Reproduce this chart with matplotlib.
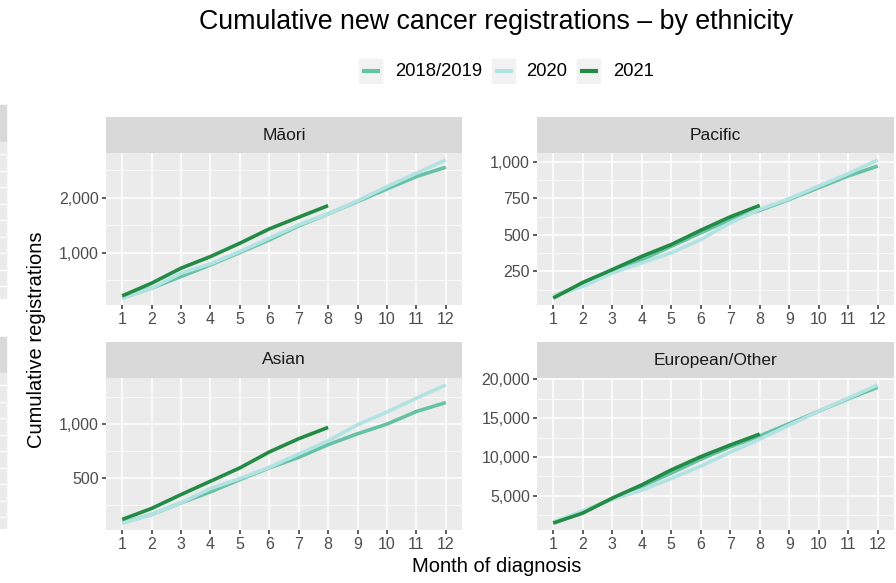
import matplotlib
matplotlib.use("Agg")
import matplotlib.pyplot as plt
from matplotlib.patches import Rectangle
from matplotlib.ticker import FuncFormatter, FixedLocator
import numpy as np

plt.rcParams['font.family'] = ['Liberation Sans', 'DejaVu Sans']

months = list(range(1, 13))
series_names = ["2018/2019", "2020", "2021"]
series_colors = ["#66c2a4", "#b2e2e2", "#238b45"]
panels = ["Māori", "Pacific", "Asian", "European/Other"]

maori_1819 = [180, 358, 570, 782, 1006, 1236, 1491, 1709, 1933, 2164, 2388, 2558]
maori_2020 = [178, 358, 630, 800, 1024, 1267, 1509, 1709, 1945, 2206, 2449, 2691]
maori_2021 = [218, 449, 722, 933, 1176, 1436, 1649, 1860]

pacific_1819 = [80, 158, 250, 330, 422, 514, 606, 668, 743, 824, 904, 972]
pacific_2020 = [80, 147, 239, 308, 377, 468, 583, 675, 748, 835, 920, 1014]
pacific_2021 = [67, 174, 262, 353, 434, 532, 624, 702]

asian_1819 = [83, 160, 268, 370, 484, 593, 691, 809, 910, 1000, 1117, 1200]
asian_2020 = [80, 160, 268, 401, 494, 598, 722, 845, 994, 1111, 1241, 1364]
asian_2021 = [114, 216, 345, 469, 593, 741, 864, 969]

euro_1819 = [1500, 2900, 4600, 6200, 7900, 9700, 11300, 12700, 14300, 15900, 17500, 19000]
euro_2020 = [1600, 3000, 4500, 5700, 7200, 8800, 10600, 12300, 14100, 15900, 17600, 19300]
euro_2021 = [1443, 2732, 4665, 6379, 8312, 10026, 11534, 12951]

panel_data = {
    "Māori": [maori_1819, maori_2020, maori_2021],
    "Pacific": [pacific_1819, pacific_2020, pacific_2021],
    "Asian": [asian_1819, asian_2020, asian_2021],
    "European/Other": [euro_1819, euro_2020, euro_2021],
}
y_major = {
    "Māori": [1000, 2000],
    "Pacific": [250, 500, 750, 1000],
    "Asian": [500, 1000],
    "European/Other": [5000, 10000, 15000, 20000],
}

W, H = 896, 583
fig = plt.figure(figsize=(W / 100, H / 100), dpi=100)

# panel pixel boxes: (left, right, strip_top, panel_top, panel_bottom)
boxes = {
    "Māori": (106, 462, 117, 153, 305),
    "Pacific": (537, 894, 117, 153, 305),
    "Asian": (106, 462, 342, 378, 530),
    "European/Other": (537, 894, 342, 378, 530),
}

# cropped fragments of a neighbouring chart at the left edge
for (st, pt, pb) in [(105, 142, 298), (337, 373, 528)]:
    fig.patches.append(Rectangle((0, 1 - pt / H), 6 / W, (pt - st) / H,
                                 transform=fig.transFigure, color="#d9d9d9", zorder=0))
    fig.patches.append(Rectangle((0, 1 - pb / H), 6 / W, (pb - pt) / H,
                                 transform=fig.transFigure, color="#ebebeb", zorder=0))
    for yy in np.arange(pt + 12, pb - 4, 16.5):
        fig.lines.append(plt.Line2D([0, 6 / W], [1 - yy / H, 1 - yy / H],
                                    transform=fig.transFigure, color="white", lw=0.8))

fmt = FuncFormatter(lambda v, p: f"{int(v):,}")

for name in panels:
    l, r, st, pt, pb = boxes[name]
    ax = fig.add_axes([l / W, 1 - pb / H, (r - l) / W, (pb - pt) / H])
    ax.set_facecolor("#ebebeb")
    for s in ax.spines.values():
        s.set_visible(False)
    data = panel_data[name]
    for vals, lab, col in zip(data, series_names, series_colors):
        ax.plot(months[:len(vals)], vals, color=col, lw=2.6, label=lab,
                solid_capstyle="butt", zorder=3)
    allv = [v for s in data for v in s]
    lo, hi = min(allv), max(allv)
    pad = 0.05 * (hi - lo)
    ax.set_ylim(lo - pad, hi + pad)
    ax.set_xlim(1 - 0.55, 12 + 0.55)
    ax.set_xticks(months)
    maj = y_major[name]
    ax.yaxis.set_major_locator(FixedLocator(maj))
    step = maj[1] - maj[0]
    minors = [m + step / 2 for m in [maj[0] - step] + maj]
    ax.yaxis.set_minor_locator(FixedLocator(minors))
    ax.yaxis.set_major_formatter(fmt)
    ax.grid(True, which="major", color="white", lw=1.1, zorder=0)
    ax.grid(True, which="minor", axis="y", color="white", lw=0.55, zorder=0)
    ax.set_axisbelow(True)
    ax.tick_params(which="major", length=3, width=1.1, color="#333333",
                   labelsize=11.5, labelcolor="#4d4d4d", pad=2)
    ax.tick_params(which="minor", length=0)
    # strip
    sax = fig.add_axes([l / W, 1 - pt / H, (r - l) / W, (pt - st) / H])
    sax.set_facecolor("#d9d9d9")
    sax.set_xticks([]); sax.set_yticks([])
    for s in sax.spines.values():
        s.set_visible(False)
    sax.text(0.5, 0.5, name, ha="center", va="center", fontsize=12.5,
             color="#1a1a1a", transform=sax.transAxes)

fig.text(496 / W, 1 - 22 / H, "Cumulative new cancer registrations – by ethnicity",
         ha="center", va="center", fontsize=19.3, color="black")
fig.text(37 / W, 1 - 340 / H, "Cumulative registrations", rotation=90,
         ha="center", va="center", fontsize=14.5, color="black")
fig.text(497 / W, 1 - 567 / H, "Month of diagnosis",
         ha="center", va="center", fontsize=14.5, color="black")

# legend (ggplot style keys with grey background)
key_left = [359, 492, 577]
text_left = [395, 526, 613]
ky_top, ky_bot = 59, 83
yc = (ky_top + ky_bot) / 2
for kl, tl, lab, col in zip(key_left, text_left, series_names, series_colors):
    fig.patches.append(Rectangle((kl / W, 1 - ky_bot / H), 23 / W, (ky_bot - ky_top) / H,
                                 transform=fig.transFigure, color="#f2f2f2", zorder=1))
    fig.lines.append(plt.Line2D([(kl + 3) / W, (kl + 21) / W], [1 - yc / H, 1 - yc / H],
                                transform=fig.transFigure, color=col, lw=3,
                                solid_capstyle="butt", zorder=2))
    fig.text(tl / W, 1 - yc / H, lab, ha="left", va="center", fontsize=13.3,
             color="black")

fig.savefig("out.png", dpi=100)
